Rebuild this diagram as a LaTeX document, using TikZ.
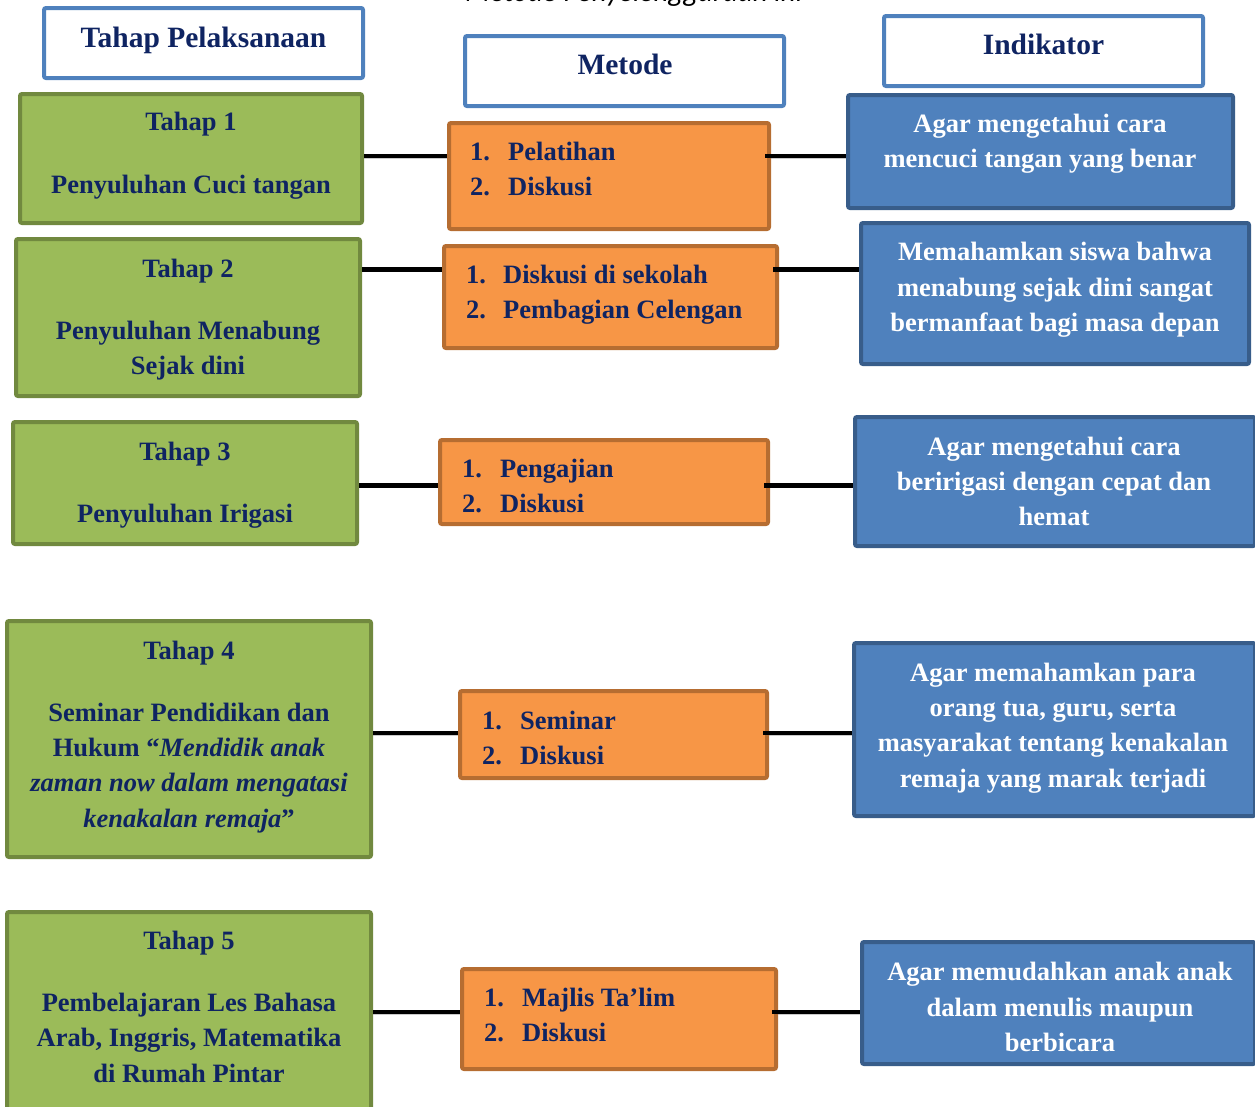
\documentclass[tikz,border=0pt]{standalone}
\usepackage{fontspec}
\setmainfont{Liberation Serif}
\newfontfamily\calib{Carlito}
\usetikzlibrary{calc}
\definecolor{navy}{RGB}{15,36,98}
\definecolor{hdrblue}{HTML}{4F81BD}
\definecolor{gfill}{HTML}{9BBB59}
\definecolor{gdark}{HTML}{71893F}
\definecolor{ofill}{HTML}{F79646}
\definecolor{odark}{HTML}{B66D31}
\definecolor{bfill}{HTML}{4F81BD}
\definecolor{bdark}{HTML}{385D8A}
\newcommand\bx[6]{\node[#2, minimum width={#5-#3-4}, minimum height={#6-#4-4}] (#1) at ({(#3+#5)/2},{(#4+#6)/2}) {};}
\begin{document}
\begin{tikzpicture}[x=1pt,y=-1pt,
 basebox/.style={draw, line width=4pt, rounded corners=2pt, inner sep=0pt},
 hdr/.style={basebox, draw=hdrblue, fill=white},
 gbox/.style={basebox, draw=gdark, fill=gfill},
 obox/.style={basebox, draw=odark, fill=ofill},
 bluebox/.style={basebox, draw=bdark, fill=bfill},
 tx/.style={anchor=base, inner sep=0pt, font=\fontsize{26.5}{35.5}\selectfont\bfseries, text=navy},
 htx/.style={tx, font=\fontsize{29.5}{35.5}\selectfont\bfseries},
 wt/.style={tx, text=white},
 lt/.style={tx, anchor=base west},
 conn/.style={line width=4.5pt, black},
 connshadow/.style={line width=5pt, black!45, opacity=0.45, yshift=-3pt}]
\useasboundingbox (0,0) rectangle (1255,1106);
\clip (0,0) rectangle (1255,1106);

% cropped caption
\node[anchor=base, inner sep=0pt, font=\calib\itshape\fontsize{29}{34}\selectfont] (cap) at (634,1.5) {Metode Penyelenggaraan ini};

% headers
\bx{h1}{hdr}{42}{6}{365}{80}
\bx{h2}{hdr}{463}{34}{786}{108}
\bx{h3}{hdr}{882}{14}{1205}{88}
\node[htx] (h1t) at (203.5,47) {Tahap Pelaksanaan};
\node[htx] (h2t) at (625,74) {Metode};
\node[htx] (h3t) at (1043.5,54) {Indikator};

% green boxes
\bx{t1}{gbox}{18}{92}{364}{225}
\bx{t2}{gbox}{14}{237}{362}{398}
\bx{t3}{gbox}{11}{420}{359}{546}
\bx{t4}{gbox}{5}{619}{373}{859}
\bx{t5}{gbox}{5}{910}{373}{1114}

% orange boxes
\bx{o1}{obox}{447}{121}{771}{231}
\bx{o2}{obox}{442}{244}{779}{350}
\bx{o3}{obox}{438}{438}{770}{526}
\bx{o4}{obox}{458}{689}{769}{780}
\bx{o5}{obox}{460}{967}{778}{1071}

% blue boxes
\bx{b1}{bluebox}{846}{93}{1235}{210}
\bx{b2}{bluebox}{859}{221}{1251}{366}
\bx{b3}{bluebox}{853}{415}{1257}{548}
\bx{b4}{bluebox}{852}{641}{1257}{818}
\bx{b5}{bluebox}{860}{940}{1257}{1066}

% connector levels
\coordinate (r1) at (0,156);
\coordinate (r2) at (0,269.5);
\coordinate (r3) at (0,485.5);
\coordinate (r4) at (0,733);
\coordinate (r5) at (0,1012);

\foreach \t/\o/\b/\r in {t1/o1/b1/r1, t2/o2/b2/r2, t3/o3/b3/r3, t4/o4/b4/r4, t5/o5/b5/r5}{
  \draw[connshadow] (\t.east |- \r) -- (\o.west |- \r);
  \draw[connshadow] (\o.east |- \r) -- (\b.west |- \r);
  \draw[conn] (\t.east |- \r) -- (\o.west |- \r);
  \draw[conn] ([xshift=-6pt]\o.east |- \r) -- (\b.west |- \r);
}

% green texts
\node[tx] (t1a) at (191,130) {Tahap 1};
\node[tx] (t1b) at (191,193) {Penyuluhan Cuci tangan};
\node[tx] (t2a) at (188,277) {Tahap 2};
\node[tx] (t2b) at (188,339) {Penyuluhan Menabung};
\node[tx] (t2c) at (188,374) {Sejak dini};
\node[tx] (t3a) at (185,460) {Tahap 3};
\node[tx] (t3b) at (185,522) {Penyuluhan Irigasi};
\node[tx] (t4a) at (189,659) {Tahap 4};
\node[tx] (t4b) at (189,721) {Seminar Pendidikan dan};
\node[tx] (t4c) at (189,756) {Hukum “\textit{Mendidik anak}};
\node[tx] (t4d) at (189,791) {\textit{zaman now dalam mengatasi}};
\node[tx] (t4e) at (189,827) {\textit{kenakalan remaja}”};
\node[tx] (t5a) at (189,949) {Tahap 5};
\node[tx] (t5b) at (189,1011) {Pembelajaran Les Bahasa};
\node[tx] (t5c) at (189,1046) {Arab, Inggris, Matematika};
\node[tx] (t5d) at (189,1082) {di Rumah Pintar};

% orange texts
\node[lt] (o1n1) at (470,160) {1.};  \node[lt] (o1a) at (508,160) {Pelatihan};
\node[lt] (o1n2) at (470,195) {2.};  \node[lt] (o1b) at (508,195) {Diskusi};
\node[lt] (o2n1) at (466,283) {1.};  \node[lt] (o2a) at (503,283) {Diskusi di sekolah};
\node[lt] (o2n2) at (466,318) {2.};  \node[lt] (o2b) at (503,318) {Pembagian Celengan};
\node[lt] (o3n1) at (462,477) {1.};  \node[lt] (o3a) at (500,477) {Pengajian};
\node[lt] (o3n2) at (462,512) {2.};  \node[lt] (o3b) at (500,512) {Diskusi};
\node[lt] (o4n1) at (482,729) {1.};  \node[lt] (o4a) at (520,729) {Seminar};
\node[lt] (o4n2) at (482,764) {2.};  \node[lt] (o4b) at (520,764) {Diskusi};
\node[lt] (o5n1) at (484,1006) {1.}; \node[lt] (o5a) at (522,1006) {Majlis Ta’lim};
\node[lt] (o5n2) at (484,1041) {2.}; \node[lt] (o5b) at (522,1041) {Diskusi};

% blue texts
\node[wt] (b1a) at (1040,132) {Agar mengetahui cara};
\node[wt] (b1b) at (1040,167) {mencuci tangan yang benar};
\node[wt] (b2a) at (1055,260) {Memahamkan siswa bahwa};
\node[wt] (b2b) at (1055,296) {menabung sejak dini sangat};
\node[wt] (b2c) at (1055,331) {bermanfaat bagi masa depan};
\node[wt] (b3a) at (1054,455) {Agar mengetahui cara};
\node[wt] (b3b) at (1054,490) {beririgasi dengan cepat dan};
\node[wt] (b3c) at (1054,525) {hemat};
\node[wt] (b4a) at (1053,681) {Agar memahamkan para};
\node[wt] (b4b) at (1053,716) {orang tua, guru, serta};
\node[wt] (b4c) at (1053,751) {masyarakat tentang kenakalan};
\node[wt] (b4d) at (1053,787) {remaja yang marak terjadi};
\node[wt] (b5a) at (1060,980) {Agar memudahkan anak anak};
\node[wt] (b5b) at (1060,1016) {dalam menulis maupun};
\node[wt] (b5c) at (1060,1051) {berbicara};
\end{tikzpicture}
\end{document}
